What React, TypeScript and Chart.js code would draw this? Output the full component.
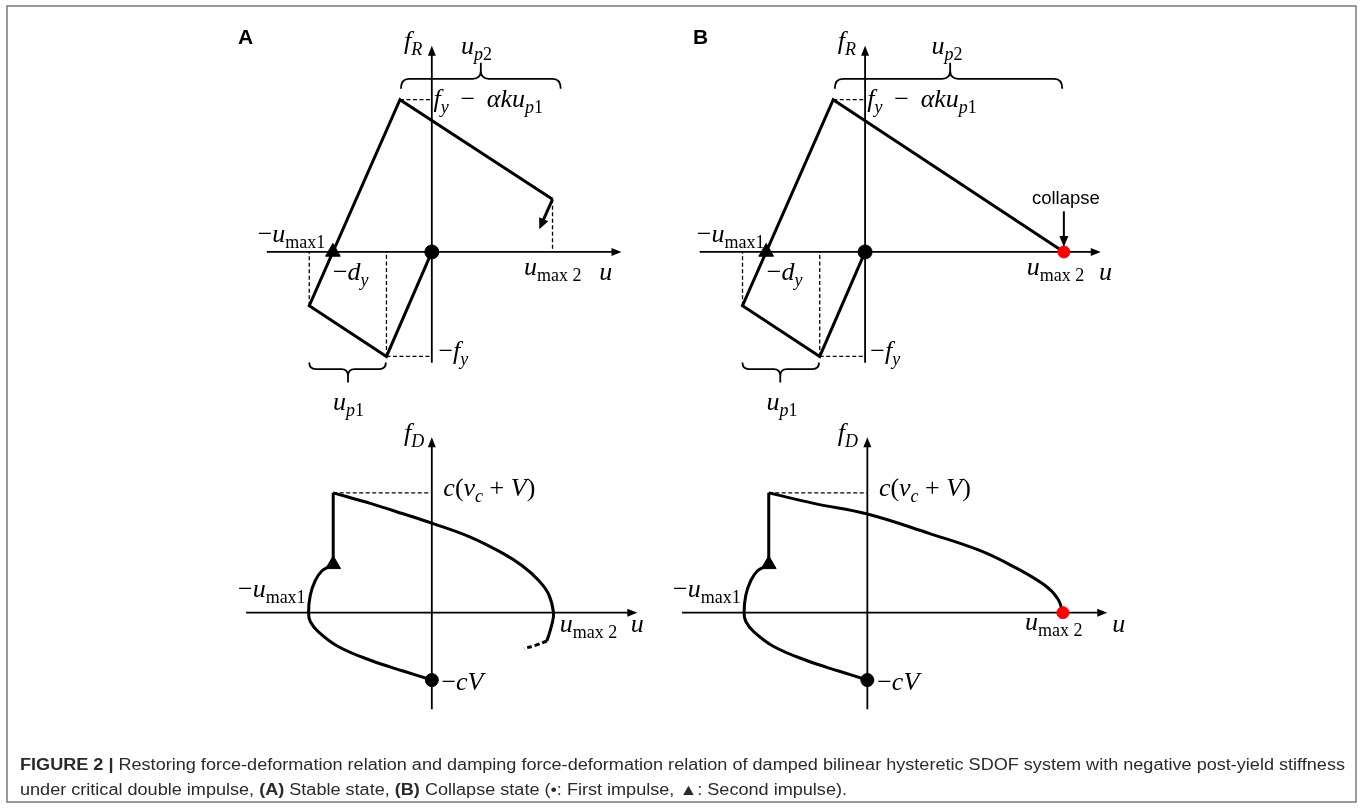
import React, { useEffect, useRef } from "react";
import { Chart, registerables } from "chart.js";

Chart.register(...registerables);

const WIDTH = 1360;
const HEIGHT = 808;
const UNIT_PX = 10; // canvas pixels per schematic unit

// Axis origins (canvas pixels) of each panel
const ORIGIN_X_A = 428.3;
const ORIGIN_X_B_TOP = 867.7;
const ORIGIN_X_B_BOT = 870;
const ORIGIN_Y_TOP = 248.3;
const ORIGIN_Y_BOT = 617.7;

// ---- Restoring force f_R vs deformation u (upper panels) ----
const restoringU_A = [0, -4.6, -12.43, -3.23, 12.24];
const restoringF_A = [0, -10.7, -5.5, 15.6, 5.4];
const restoringU_B = [0, -4.6, -12.43, -3.23, 20.16];
const restoringF_B = [0, -10.7, -5.5, 15.6, 0];
const unloadArrowU = [12.24, 10.9];
const unloadArrowF = [5.4, 2.33];

// dashed projection lines [u1, f1, u2, f2]
const guidesTopA = [
  [-12.43, -5.5, -12.43, 0],
  [-4.6, -10.7, -4.6, 0],
  [-4.6, -10.7, 0, -10.7],
  [-3.23, 15.6, 0, 15.6],
  [12.24, 5.4, 12.24, 0],
];
const guidesTopB = [
  [-12.43, -5.5, -12.43, 0],
  [-4.6, -10.7, -4.6, 0],
  [-4.6, -10.7, 0, -10.7],
  [-3.23, 15.6, 0, 15.6],
];
const guidesBottom = [[-10, 12.27, 0, 12.27]];

// ---- Damping force f_D vs deformation u (lower panels) ----
const dampUpperU_A = [-10.0, -6.16, -2.83, 0, 3.84, 7.17, 9.17, 10.84, 11.84, 12.34, 12.17, 11.67];
const dampUpperF_A = [12.27, 11.17, 10.1, 9.17, 7.77, 6.1, 4.8, 3.3, 1.9, 0, -1.23, -2.9];
const dampTailU_A = [11.67, 10.5, 9.34];
const dampTailF_A = [-2.9, -3.35, -3.66];
const dampUpperU_B = [-10.0, -5.33, 0, 6.33, 11.33, 14.67, 18.0, 19.33, 19.83];
const dampUpperF_B = [12.27, 11.17, 10.1, 8.1, 6.4, 4.8, 2.8, 1.4, 0];
const dampLowerU = [-10.0, -10.33, -11.16, -11.83, -12.33, -12.5, -12.33, -11.5, -9.5, -6.16, -2.83, 0];
const dampLowerF = [5.1, 4.77, 4.27, 3.27, 1.77, 0, -0.9, -1.96, -3.46, -4.9, -6.0, -6.9];
const secondImpulseU = [-10, -10];
const secondImpulseF = [12.27, 5.6];

// ---- Impulse markers ----
const firstImpulseTop = [0, 0];
const secondImpulseTop = [-10.03, 0];
const firstImpulseBottom = [0, -6.9];
const secondImpulseBottom = [-10, 4.95];
const collapseTop = [20.16, 0];
const collapseBottom = [19.83, 0];

// ---- Axes extents [min, max] in units ----
const axisTopA = { h: [-16.73, 19.24], v: [-11.34, 21.13] };
const axisTopB = { h: [-16.77, 23.9], v: [-11.34, 21.13] };
const axisBotA = { h: [-18.83, 20.84], v: [-9.9, 17.97] };
const axisBotB = { h: [-18.8, 24.33], v: [-9.9, 17.97] };

// ---- Braces ----
const bracesTopA = [{ u1: -3.13, u2: 13.07, um: 4.97, f: 17.73, dir: -1, h: 1.0, t: 1.6 }, { u1: -12.43, u2: -4.66, um: -8.5, f: -12.0, dir: 1, h: 0.66, t: 1.34 }];
const bracesTopB = [{ u1: -3.07, u2: 20.0, um: 8.63, f: 17.73, dir: -1, h: 1.0, t: 1.6 }, { u1: -12.44, u2: -4.67, um: -8.6, f: -12.0, dir: 1, h: 0.66, t: 1.34 }];

// ---- Math labels: style codes i = italic, r = roman, si/sr = subscript ----
type Part = [string, string];
type Label = { u: number; f: number; parts: Part[] };

const lblFR: Part[] = [["f", "i"], ["R", "si"]];
const lblFD: Part[] = [["f", "i"], ["D", "si"]];
const lblUp2: Part[] = [["u", "i"], ["p", "si"], ["2", "sr"]];
const lblUp1: Part[] = [["u", "i"], ["p", "si"], ["1", "sr"]];
const lblPeak: Part[] = [["f", "i"], ["y", "si"], ["\u2009 \u2212 \u2009", "r"], ["\u03b1ku", "i"], ["p", "si"], ["1", "sr"]];
const lblUmax1: Part[] = [["\u2212", "r"], ["u", "i"], ["max1", "sr"]];
const lblUmax2: Part[] = [["u", "i"], ["max 2", "sr"]];
const lblDy: Part[] = [["\u2212", "r"], ["d", "i"], ["y", "si"]];
const lblFy: Part[] = [["\u2212", "r"], ["f", "i"], ["y", "si"]];
const lblU: Part[] = [["u", "i"]];
const lblCv: Part[] = [["c", "i"], ["(", "r"], ["v", "i"], ["c", "si"], [" + ", "r"], ["V", "i"], [")", "r"]];
const lblCV: Part[] = [["\u2212", "r"], ["cV", "i"]];

const labelsTopA: Label[] = [
  { u: -2.83, f: 20.83, parts: lblFR },
  { u: 2.97, f: 20.23, parts: lblUp2 },
  { u: 0.17, f: 14.83, parts: lblPeak },
  { u: -17.66, f: 1.0, parts: lblUmax1 },
  { u: -10.03, f: -2.84, parts: lblDy },
  { u: 9.34, f: -2.37, parts: lblUmax2 },
  { u: 16.97, f: -2.87, parts: lblU },
  { u: 0.67, f: -10.97, parts: lblFy },
  { u: -10.03, f: -16.17, parts: lblUp1 },
];
const labelsTopB: Label[] = [
  { u: -2.77, f: 20.83, parts: lblFR },
  { u: 6.73, f: 20.23, parts: lblUp2 },
  { u: 0.23, f: 14.83, parts: lblPeak },
  { u: -17.07, f: 1.0, parts: lblUmax1 },
  { u: -9.97, f: -2.84, parts: lblDy },
  { u: 16.4, f: -2.37, parts: lblUmax2 },
  { u: 23.73, f: -2.87, parts: lblU },
  { u: 0.53, f: -10.97, parts: lblFy },
  { u: -10.0, f: -16.17, parts: lblUp1 },
];
const labelsBotA: Label[] = [
  { u: -2.83, f: 17.6, parts: lblFD },
  { u: 1.17, f: 11.94, parts: lblCv },
  { u: -19.66, f: 1.6, parts: lblUmax1 },
  { u: 12.97, f: -2.03, parts: lblUmax2 },
  { u: 20.17, f: -2.03, parts: lblU },
  { u: 0.97, f: -7.93, parts: lblCV },
];
const labelsBotB: Label[] = [
  { u: -3.0, f: 17.6, parts: lblFD },
  { u: 1.17, f: 11.94, parts: lblCv },
  { u: -19.7, f: 1.6, parts: lblUmax1 },
  { u: 16.0, f: -1.73, parts: lblUmax2 },
  { u: 24.83, f: -2.03, parts: lblU },
  { u: 1.0, f: -7.93, parts: lblCV },
];

const collapseText = "collapse";
const collapseArrowF = [4.16, 0.5];

const captionLine1Bold = "FIGURE 2 |";
const captionLine1 = " Restoring force-deformation relation and damping force-deformation relation of damped bilinear hysteretic SDOF system with negative post-yield stiffness";
const captionLine2: [string, boolean][] = [
  ["under critical double impulse, ", false],
  ["(A)", true],
  [" Stable state, ", false],
  ["(B)", true],
  [" Collapse state (\u2022: First impulse, \u25B2: Second impulse).", false],
];

const MAIN_PX = 26;
const SUB_PX = 18;
const SUB_DROP = 6;
const SERIF = '"Liberation Serif", "DejaVu Serif", serif';
const SANS = '"Liberation Sans", Arial, "DejaVu Sans", sans-serif';

const pts = (us: number[], fs: number[]) => us.map((u, i) => ({ x: u, y: fs[i] }));

function drawMath(ctx: CanvasRenderingContext2D, x: number, y: number, parts: Part[]) {
  let cx = x;
  for (const [t, s] of parts) {
    const sub = s.startsWith("s");
    const it = s.endsWith("i");
    ctx.font = `${it ? "italic " : ""}${sub ? SUB_PX : MAIN_PX}px ${SERIF}`;
    ctx.fillText(t, cx, y + (sub ? SUB_DROP : 0));
    cx += ctx.measureText(t).width;
  }
}

function arrowHead(ctx: CanvasRenderingContext2D, x: number, y: number, angle: number, len: number, half: number) {
  ctx.save();
  ctx.translate(x, y);
  ctx.rotate(angle);
  ctx.beginPath();
  ctx.moveTo(0, 0);
  ctx.lineTo(-len, -half);
  ctx.lineTo(-len, half);
  ctx.closePath();
  ctx.fill();
  ctx.restore();
}

function brace(ctx: CanvasRenderingContext2D, x1: number, x2: number, xm: number, y: number, dir: number, h: number, t: number) {
  const r = Math.min(h, 8);
  ctx.beginPath();
  ctx.moveTo(x1, y - dir * h);
  ctx.quadraticCurveTo(x1, y, x1 + r, y);
  ctx.lineTo(xm - r, y);
  ctx.quadraticCurveTo(xm, y, xm, y + dir * r);
  ctx.lineTo(xm, y + dir * t);
  ctx.moveTo(xm, y + dir * r);
  ctx.quadraticCurveTo(xm, y, xm + r, y);
  ctx.lineTo(x2 - r, y);
  ctx.quadraticCurveTo(x2, y, x2, y - dir * h);
  ctx.stroke();
}

const panels = [
  { x: "xA", y: "yT", axis: axisTopA, labels: labelsTopA, braces: bracesTopA },
  { x: "xBt", y: "yT", axis: axisTopB, labels: labelsTopB, braces: bracesTopB },
  { x: "xA", y: "yB", axis: axisBotA, labels: labelsBotA, braces: [] as typeof bracesTopA },
  { x: "xBb", y: "yB", axis: axisBotB, labels: labelsBotB, braces: [] as typeof bracesTopA },
];

const figurePlugin = {
  id: "figure",
  beforeDatasetsDraw(chart: any) {
    const ctx: CanvasRenderingContext2D = chart.ctx;
    ctx.save();
    ctx.strokeStyle = "#000";
    ctx.fillStyle = "#000";
    ctx.lineWidth = 1.8;
    for (const p of panels) {
      const sx = chart.scales[p.x];
      const sy = chart.scales[p.y];
      const x0 = sx.getPixelForValue(0);
      const y0 = sy.getPixelForValue(0);
      const hx1 = sx.getPixelForValue(p.axis.h[0]);
      const hx2 = sx.getPixelForValue(p.axis.h[1]);
      const vy1 = sy.getPixelForValue(p.axis.v[0]);
      const vy2 = sy.getPixelForValue(p.axis.v[1]);
      ctx.beginPath();
      ctx.moveTo(hx1, y0);
      ctx.lineTo(hx2 - 5, y0);
      ctx.moveTo(x0, vy1);
      ctx.lineTo(x0, vy2 + 5);
      ctx.stroke();
      arrowHead(ctx, hx2, y0, 0, 10, 4);
      arrowHead(ctx, x0, vy2, -Math.PI / 2, 10, 4);
    }
    ctx.restore();
  },
  afterDatasetsDraw(chart: any) {
    const ctx: CanvasRenderingContext2D = chart.ctx;
    ctx.save();
    ctx.fillStyle = "#000";
    ctx.strokeStyle = "#000";
    ctx.textBaseline = "alphabetic";
    ctx.textAlign = "left";

    for (const p of panels) {
      const sx = chart.scales[p.x];
      const sy = chart.scales[p.y];
      for (const l of p.labels) {
        drawMath(ctx, sx.getPixelForValue(l.u), sy.getPixelForValue(l.f), l.parts);
      }
      ctx.lineWidth = 1.8;
      for (const b of p.braces) {
        const y = sy.getPixelForValue(b.f);
        brace(ctx, sx.getPixelForValue(b.u1), sx.getPixelForValue(b.u2), sx.getPixelForValue(b.um), y, b.dir, b.h * UNIT_PX, b.t * UNIT_PX);
      }
    }

    // unloading arrow at the end of the stable-state branch
    {
      const sx = chart.scales.xA;
      const sy = chart.scales.yT;
      const x1 = sx.getPixelForValue(unloadArrowU[0]);
      const y1 = sy.getPixelForValue(unloadArrowF[0]);
      const x2 = sx.getPixelForValue(unloadArrowU[1]);
      const y2 = sy.getPixelForValue(unloadArrowF[1]);
      const ang = Math.atan2(y2 - y1, x2 - x1);
      ctx.lineWidth = 3;
      ctx.beginPath();
      ctx.moveTo(x1, y1);
      ctx.lineTo(x2 - Math.cos(ang) * 8, y2 - Math.sin(ang) * 8);
      ctx.stroke();
      arrowHead(ctx, x2, y2, ang, 11, 5);
    }

    // collapse annotation
    {
      const sx = chart.scales.xBt;
      const sy = chart.scales.yT;
      const x = sx.getPixelForValue(collapseTop[0]);
      const yTop = sy.getPixelForValue(collapseArrowF[0]);
      const yTip = sy.getPixelForValue(collapseArrowF[1]);
      ctx.font = `18.5px ${SANS}`;
      ctx.textAlign = "center";
      ctx.fillText(collapseText, x + 2, yTop - 7);
      ctx.textAlign = "left";
      ctx.lineWidth = 2;
      ctx.beginPath();
      ctx.moveTo(x, yTop);
      ctx.lineTo(x, yTip - 8);
      ctx.stroke();
      arrowHead(ctx, x, yTip, Math.PI / 2, 11, 4.5);
    }

    // panel letters
    ctx.font = `bold 21px ${SANS}`;
    ctx.fillText("A", 238, 43.5);
    ctx.fillText("B", 693, 43.5);

    // caption
    ctx.fillStyle = "#2a2a2a";
    const capSize = 16;
    const bold = `bold ${capSize}px ${SANS}`;
    const reg = `${capSize}px ${SANS}`;
    ctx.font = bold;
    const wB = ctx.measureText(captionLine1Bold).width;
    ctx.font = reg;
    const wR = ctx.measureText(captionLine1).width;
    const sxCap = 1325 / (wB + wR);
    ctx.save();
    ctx.translate(20, 0);
    ctx.scale(sxCap, 1);
    ctx.font = bold;
    ctx.fillText(captionLine1Bold, 0, 770);
    ctx.font = reg;
    ctx.fillText(captionLine1, wB, 770);
    let cx = 0;
    for (const [t, b] of captionLine2) {
      ctx.font = b ? bold : reg;
      ctx.fillText(t, cx, 795);
      cx += ctx.measureText(t).width;
    }
    ctx.restore();

    // frame
    ctx.strokeStyle = "#7a7a7a";
    ctx.lineWidth = 1.5;
    ctx.strokeRect(7, 6, 1349, 796);
    ctx.restore();
  },
};

function xScale(origin: number) {
  return { type: "linear", display: false, min: -origin / UNIT_PX, max: (WIDTH - origin) / UNIT_PX };
}
function yScale(origin: number) {
  return { type: "linear", display: false, min: (origin - HEIGHT) / UNIT_PX, max: origin / UNIT_PX };
}

function curve(us: number[], fs: number[], xId: string, yId: string, extra: any = {}) {
  return {
    data: pts(us, fs),
    xAxisID: xId,
    yAxisID: yId,
    showLine: true,
    borderColor: "#000",
    borderWidth: 3,
    pointRadius: 0,
    fill: false,
    borderJoinStyle: "miter",
    clip: false,
    order: 2,
    ...extra,
  };
}

function guides(list: number[][], xId: string, yId: string) {
  return list.map((g) =>
    curve([g[0], g[2]], [g[1], g[3]], xId, yId, { borderWidth: 1.3, borderDash: [4, 2.5], order: 3 })
  );
}

function marker(pt: number[], xId: string, yId: string, style: string, color: string, r: number) {
  return {
    data: [{ x: pt[0], y: pt[1] }],
    xAxisID: xId,
    yAxisID: yId,
    showLine: false,
    pointStyle: style,
    pointRadius: r,
    pointBackgroundColor: color,
    pointBorderColor: color,
    pointBorderWidth: 1,
    clip: false,
    order: 0,
  };
}

export default function App() {
  const ref = useRef<HTMLCanvasElement | null>(null);

  useEffect(() => {
    document.body.style.margin = "0";
    if (!ref.current) return;
    const smooth = { tension: 0.4 };
    const datasets: any[] = [
      // upper panels
      curve(restoringU_A, restoringF_A, "xA", "yT"),
      curve(restoringU_B, restoringF_B, "xBt", "yT"),
      ...guides(guidesTopA, "xA", "yT"),
      ...guides(guidesTopB, "xBt", "yT"),
      // lower panels
      curve(dampUpperU_A, dampUpperF_A, "xA", "yB", smooth),
      curve(dampTailU_A, dampTailF_A, "xA", "yB", { ...smooth, borderDash: [5, 3] }),
      curve(dampLowerU, dampLowerF, "xA", "yB", smooth),
      curve(secondImpulseU, secondImpulseF, "xA", "yB"),
      curve(dampUpperU_B, dampUpperF_B, "xBb", "yB", smooth),
      curve(dampLowerU, dampLowerF, "xBb", "yB", smooth),
      curve(secondImpulseU, secondImpulseF, "xBb", "yB"),
      ...guides(guidesBottom, "xA", "yB"),
      ...guides(guidesBottom, "xBb", "yB"),
      // markers
      marker(firstImpulseTop, "xA", "yT", "circle", "#000", 7),
      marker(secondImpulseTop, "xA", "yT", "triangle", "#000", 8.5),
      marker(firstImpulseTop, "xBt", "yT", "circle", "#000", 7),
      marker(secondImpulseTop, "xBt", "yT", "triangle", "#000", 8.5),
      marker(collapseTop, "xBt", "yT", "circle", "#ff0000", 6),
      marker(firstImpulseBottom, "xA", "yB", "circle", "#000", 6.5),
      marker(secondImpulseBottom, "xA", "yB", "triangle", "#000", 8.5),
      marker(firstImpulseBottom, "xBb", "yB", "circle", "#000", 6.5),
      marker(secondImpulseBottom, "xBb", "yB", "triangle", "#000", 8.5),
      marker(collapseBottom, "xBb", "yB", "circle", "#ff0000", 6),
    ];

    const chart = new Chart(ref.current, {
      type: "scatter",
      data: { datasets },
      options: {
        responsive: false,
        animation: false,
        devicePixelRatio: 1,
        layout: { padding: 0 },
        plugins: { legend: { display: false }, tooltip: { enabled: false } },
        events: [],
        scales: {
          xA: xScale(ORIGIN_X_A),
          xBt: xScale(ORIGIN_X_B_TOP),
          xBb: xScale(ORIGIN_X_B_BOT),
          yT: yScale(ORIGIN_Y_TOP),
          yB: yScale(ORIGIN_Y_BOT),
        } as any,
      },
      plugins: [figurePlugin],
    } as any);
    return () => chart.destroy();
  }, []);

  return <canvas ref={ref} width={WIDTH} height={HEIGHT} style={{ display: "block", width: WIDTH, height: HEIGHT }} />;
}
